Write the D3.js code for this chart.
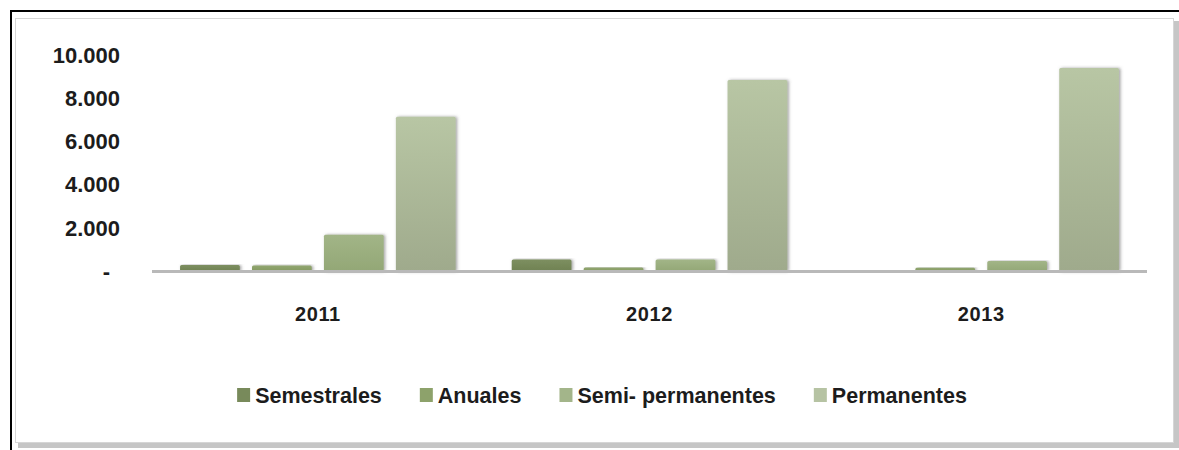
<!DOCTYPE html>
<html>
<head>
<meta charset="utf-8">
<script src="https://cdn.jsdelivr.net/npm/d3@7"></script>
<style>
  html, body { margin: 0; padding: 0; background: #fff; }
  svg { display: block; font-family: "Liberation Sans", Arial, sans-serif; font-weight: bold; }
</style>
</head>
<body>
<div id="chart"></div>
<script>
const years = ["2011", "2012", "2013"];
const seriesNames = ["Semestrales", "Anuales", "Semi- permanentes", "Permanentes"];
const semestrales = [300, 550, 0];
const anuales = [280, 180, 170];
const semiPermanentes = [1700, 550, 480];
const permanentes = [7150, 8850, 9400];
const yTicks = [0, 2000, 4000, 6000, 8000, 10000];

const seriesValues = [semestrales, anuales, semiPermanentes, permanentes];
const colorsTop = ["#7d8f60", "#91a671", "#a2b587", "#b8c6a4"];
const colorsBottom = ["#6f8152", "#84995f", "#93a776", "#9faa8c"];
const legendColors = ["#788a5b", "#8da26b", "#a3b58a", "#b6c3a3"];

const width = 1179, height = 450;
const plot = { left: 152, right: 1147, top: 55, bottom: 271.5 };

const svg = d3.select("#chart").append("svg")
  .attr("width", width)
  .attr("height", height);

const defs = svg.append("defs");
seriesNames.forEach((s, i) => {
  const g = defs.append("linearGradient")
    .attr("id", "grad" + i)
    .attr("x1", 0).attr("y1", 0).attr("x2", 0).attr("y2", 1);
  g.append("stop").attr("offset", "0%").attr("stop-color", colorsTop[i]);
  g.append("stop").attr("offset", "100%").attr("stop-color", colorsBottom[i]);
});
const shadow = defs.append("filter").attr("id", "shadow")
  .attr("x", "-20%").attr("y", "-10%").attr("width", "140%").attr("height", "120%");
shadow.append("feDropShadow")
  .attr("dx", 1.5).attr("dy", 0).attr("stdDeviation", 1.6)
  .attr("flood-color", "#555").attr("flood-opacity", 0.55);

// frame: outer black lines and inner box with shadow
svg.append("rect").attr("x", 18).attr("y", 21).attr("width", 1161).attr("height", 427)
  .attr("fill", "#c6c6c6");
svg.append("rect").attr("x", 15.5).attr("y", 18.5).attr("width", 1158).attr("height", 424)
  .attr("fill", "#fff").attr("stroke", "#d6d6d6").attr("stroke-width", 1);
svg.append("line").attr("x1", 10).attr("x2", width).attr("y1", 11).attr("y2", 11)
  .attr("stroke", "#000").attr("stroke-width", 2);
svg.append("line").attr("x1", 11).attr("x2", 11).attr("y1", 10).attr("y2", height)
  .attr("stroke", "#000").attr("stroke-width", 2);

// scales
const x0 = d3.scaleBand().domain(years).range([plot.left, plot.right]).padding(0);
const x1 = d3.scaleBand().domain(seriesNames).range([0, x0.bandwidth()])
  .paddingInner(0.17).paddingOuter(0.39);
const y = d3.scaleLinear().domain([0, 10000]).range([plot.bottom, plot.top]);

const loc = d3.formatLocale({ decimal: ",", thousands: ".", grouping: [3], currency: ["", ""] });
const fmt = loc.format(",d");

// y axis labels (no axis line)
const yAxis = d3.axisLeft(y)
  .tickValues(yTicks)
  .tickSize(0)
  .tickPadding(0)
  .tickFormat(d => d === 0 ? "-" : fmt(d));
const yg = svg.append("g")
  .attr("transform", "translate(120,0)")
  .call(yAxis);
yg.select(".domain").remove();
yg.selectAll("text")
  .attr("font-size", 22)
  .attr("font-family", "'Liberation Sans', Arial, sans-serif")
  .attr("font-weight", "bold")
  .attr("fill", "#1c1c1c");
yg.selectAll(".tick").filter(d => d === 0).select("text").attr("x", -10);

// bars
const groups = svg.append("g").selectAll("g")
  .data(years)
  .join("g")
  .attr("transform", d => `translate(${x0(d)},0)`);

groups.selectAll("rect")
  .data((yr, j) => seriesNames.map((s, i) => ({ s, i, v: seriesValues[i][j] })))
  .join("rect")
  .filter(d => d.v > 0)
  .attr("x", d => x1(d.s))
  .attr("width", x1.bandwidth())
  .attr("y", d => y(d.v))
  .attr("height", d => y(0) - y(d.v))
  .attr("rx", 1.5)
  .attr("fill", d => `url(#grad${d.i})`)
  .attr("filter", "url(#shadow)");

// category axis line
svg.append("line")
  .attr("x1", plot.left).attr("x2", plot.right)
  .attr("y1", plot.bottom).attr("y2", plot.bottom)
  .attr("stroke", "#b9b9b9").attr("stroke-width", 3);

// x axis labels
const xAxis = d3.axisBottom(x0).tickSize(0).tickPadding(0);
const xg = svg.append("g")
  .attr("transform", "translate(0,321)")
  .call(xAxis);
xg.select(".domain").remove();
xg.selectAll("text")
  .attr("dy", 0)
  .attr("font-size", 20)
  .attr("font-family", "'Liberation Sans', Arial, sans-serif")
  .attr("font-weight", "bold")
  .attr("letter-spacing", 0.6)
  .attr("fill", "#1c1c1c");

// legend
const legend = svg.append("g");
const items = legend.selectAll("g")
  .data(seriesNames)
  .join("g");
items.append("rect")
  .attr("width", 13).attr("height", 14)
  .attr("y", 388)
  .attr("fill", (d, i) => legendColors[i]);
items.append("text")
  .attr("x", 18)
  .attr("y", 403)
  .attr("font-size", 21.5)
  .attr("fill", "#1c1c1c")
  .text(d => d);

const gap = 38;
let cursor = 0;
const offsets = [];
items.each(function(d) {
  const w = 18 + d3.select(this).select("text").node().getComputedTextLength();
  offsets.push(cursor);
  cursor += w + gap;
});
const totalW = cursor - gap;
const startX = 602 - totalW / 2;
items.attr("transform", (d, i) => `translate(${startX + offsets[i]},0)`);
</script>
</body>
</html>
